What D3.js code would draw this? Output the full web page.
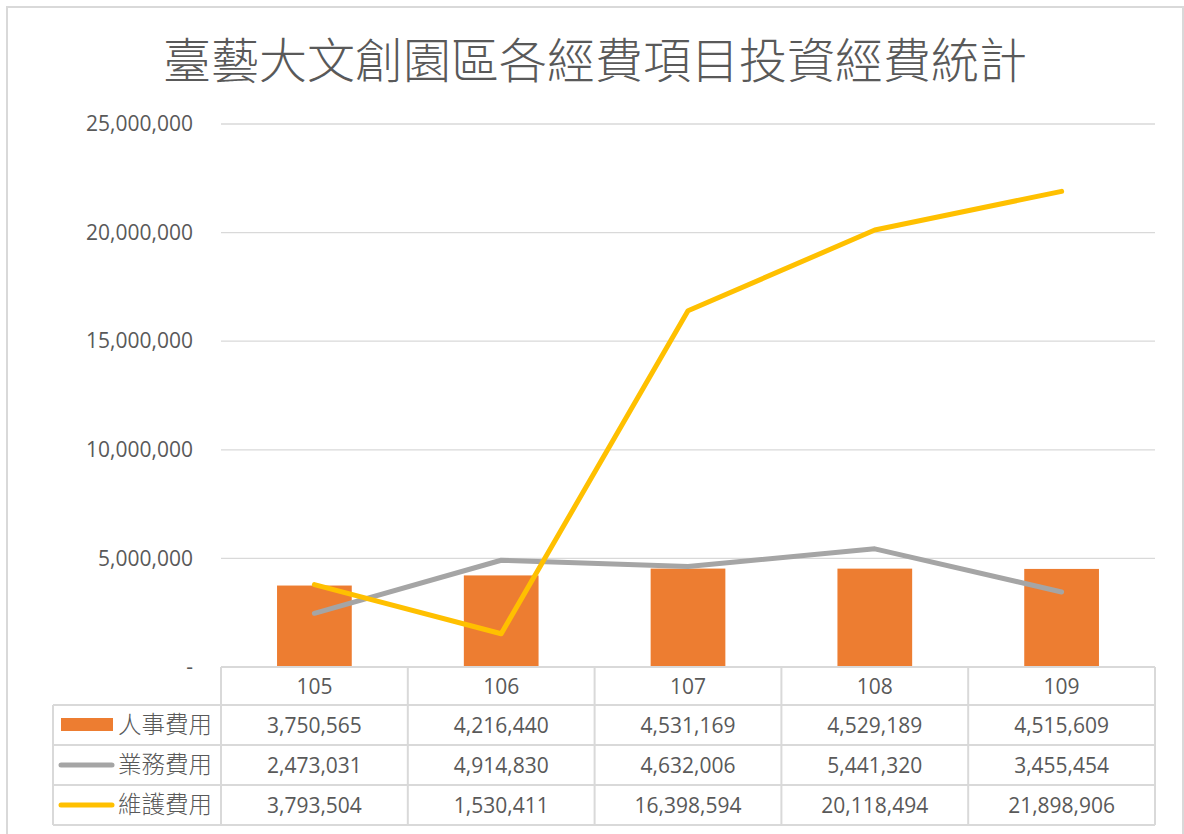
<!DOCTYPE html>
<html><head><meta charset="utf-8">
<script src="https://cdn.jsdelivr.net/npm/d3@7"></script>
<style>
html,body{margin:0;padding:0;background:#fff;}
svg{display:block;}
</style></head>
<body>
<svg id="chart" width="1184" height="834"></svg>
<script>
const title = "臺藝大文創園區各經費項目投資經費統計";
const categories = ["105", "106", "107", "108", "109"];
const seriesNames = ["人事費用", "業務費用", "維護費用"];
const personnel = [3750565, 4216440, 4531169, 4529189, 4515609];
const business = [2473031, 4914830, 4632006, 5441320, 3455454];
const maintenance = [3793504, 1530411, 16398594, 20118494, 21898906];
const yTicks = [0, 5000000, 10000000, 15000000, 20000000, 25000000];

const colors = ["#ED7D31", "#A5A5A5", "#FFC000"];
const textColor = "#595959";
const gridColor = "#D9D9D9";
const numFont = "'Open Sans', 'Liberation Sans', sans-serif";
const cjkFont = "'Noto Sans CJK TC', 'Noto Sans CJK SC', sans-serif";

const svg = d3.select("#chart");
const L = 221, R = 1155, T = 124, B = 667;

// frame
svg.append("rect").attr("x", 7).attr("y", 7).attr("width", 1176).attr("height", 860)
  .attr("fill", "#fff").attr("stroke", gridColor).attr("stroke-width", 2);

// title
svg.append("text").attr("x", 595).attr("y", 78).attr("text-anchor", "middle")
  .attr("font-family", cjkFont).attr("font-weight", 300).attr("font-size", 48)
  .attr("fill", textColor).text(title);

const x = d3.scaleBand().domain(categories).range([L, R]).padding(0);
const xBar = d3.scaleBand().domain(categories).range([L, R]).paddingInner(0.6).paddingOuter(0.3);
const y = d3.scaleLinear().domain([0, 25000000]).range([B, T]);

// gridlines
svg.append("g").selectAll("line").data(yTicks.filter(d => d > 0)).join("line")
  .attr("x1", L).attr("x2", R).attr("y1", d => y(d)).attr("y2", d => y(d))
  .attr("stroke", gridColor).attr("stroke-width", 1.3);

// y axis labels
const fmt = d3.format(",");
const yAxis = d3.axisLeft(y).tickValues(yTicks).tickSize(0).tickPadding(0)
  .tickFormat(d => d === 0 ? "-" : fmt(d));
const yg = svg.append("g").attr("transform", `translate(193,0)`).call(yAxis);
yg.select(".domain").remove();
yg.selectAll("text").attr("font-family", numFont).attr("font-size", 21).attr("fill", textColor);

// bars
svg.append("g").selectAll("rect").data(personnel).join("rect")
  .attr("x", (d, i) => xBar(categories[i])).attr("width", xBar.bandwidth())
  .attr("y", d => y(d)).attr("height", d => y(0) - y(d)).attr("fill", colors[0]);

// lines
const line = d3.line().x((d, i) => x(categories[i]) + x.bandwidth() / 2).y(d => y(d));
[business, maintenance].forEach((s, k) => {
  svg.append("path").datum(s).attr("d", line).attr("fill", "none")
    .attr("stroke", colors[k + 1]).attr("stroke-width", 5)
    .attr("stroke-linecap", "round").attr("stroke-linejoin", "round");
});

// data table
const headerTop = B, headerH = 38, rowH = 40, legL = 53;
const rowsTop = headerTop + headerH;
const tableBottom = rowsTop + rowH * 3;
const tg = svg.append("g");
tg.append("line").attr("x1", L).attr("x2", R).attr("y1", headerTop).attr("y2", headerTop)
  .attr("stroke", gridColor).attr("stroke-width", 2);
[0, 1, 2, 3].forEach(i => {
  const yy = rowsTop + i * rowH;
  tg.append("line").attr("x1", legL).attr("x2", R).attr("y1", yy).attr("y2", yy)
    .attr("stroke", gridColor).attr("stroke-width", 2);
});
const colEdges = categories.map(c => x(c)).concat([R]);
colEdges.forEach(xx => {
  tg.append("line").attr("x1", xx).attr("x2", xx).attr("y1", headerTop).attr("y2", tableBottom)
    .attr("stroke", gridColor).attr("stroke-width", 2);
});
tg.append("line").attr("x1", legL).attr("x2", legL).attr("y1", rowsTop).attr("y2", tableBottom)
  .attr("stroke", gridColor).attr("stroke-width", 2);

tg.selectAll("text.cat").data(categories).join("text").attr("class", "cat")
  .attr("x", d => x(d) + x.bandwidth() / 2).attr("y", headerTop + headerH / 2)
  .attr("dy", "0.36em").attr("text-anchor", "middle")
  .attr("font-family", numFont).attr("font-size", 21).attr("fill", textColor).text(d => d);

const allSeries = [personnel, business, maintenance];
allSeries.forEach((s, k) => {
  const cy = rowsTop + k * rowH + rowH / 2;
  tg.selectAll(null).data(s).join("text")
    .attr("x", (d, i) => x(categories[i]) + x.bandwidth() / 2).attr("y", cy)
    .attr("dy", "0.36em").attr("text-anchor", "middle")
    .attr("font-family", numFont).attr("font-size", 21).attr("fill", textColor).text(d => fmt(d));
  if (k === 0) {
    tg.append("rect").attr("x", 61).attr("y", cy - 7).attr("width", 52).attr("height", 13).attr("fill", colors[0]);
  } else {
    tg.append("line").attr("x1", 61).attr("x2", 112).attr("y1", cy).attr("y2", cy)
      .attr("stroke", colors[k]).attr("stroke-width", 5).attr("stroke-linecap", "round");
  }
  tg.append("text").attr("x", 118).attr("y", cy).attr("dy", "0.36em")
    .attr("font-family", cjkFont).attr("font-weight", 300).attr("font-size", 23.5)
    .attr("fill", textColor).text(seriesNames[k]);
});
</script>
</body></html>
